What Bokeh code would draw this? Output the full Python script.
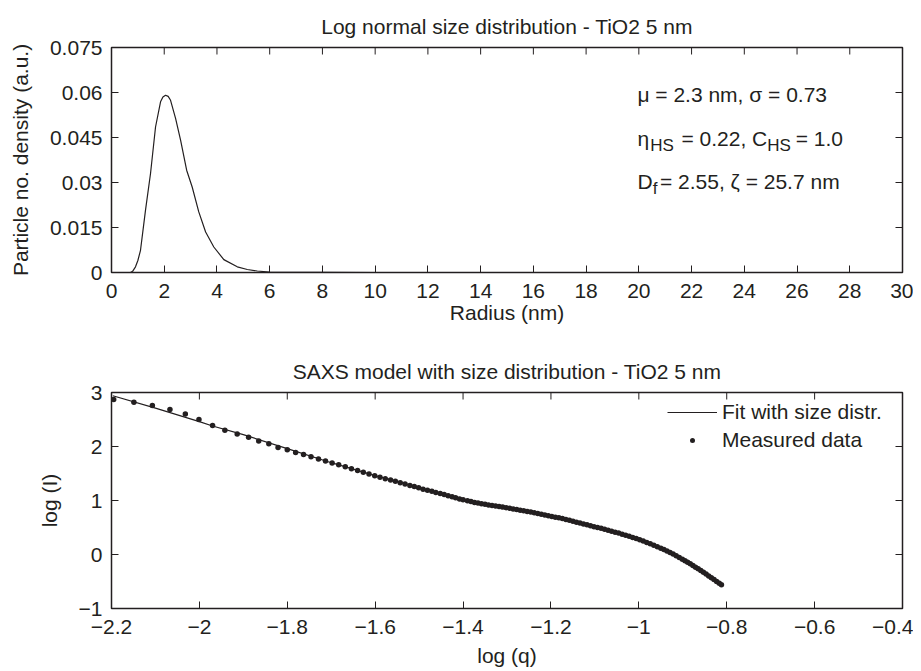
from bokeh.plotting import figure
from bokeh.models import Range1d, FixedTicker, Label, Legend, LegendItem
from bokeh.layouts import column
from bokeh.embed import file_html
from bokeh.resources import INLINE

INK = "#231f20"
FONT = "Liberation Sans"

# ---------------- data: top panel (size distribution) ----------------
radius_nm = [0.1, 0.5, 0.72, 0.80, 0.91, 1.00, 1.10, 1.29, 1.48, 1.67, 1.86, 1.95, 2.05,
             2.15, 2.24, 2.43, 2.62, 2.85, 3.06, 3.31, 3.57, 3.88, 4.26, 4.77, 5.15,
             5.53, 6.0, 10.0, 15.0, 20.0, 25.0]
density = [0.0, 0.0, 0.0, 0.0004, 0.0019, 0.0040, 0.0074, 0.0208, 0.0330, 0.0485, 0.0569,
           0.0585, 0.0591, 0.0587, 0.0574, 0.0514, 0.0441, 0.0341, 0.0285, 0.0202, 0.0135,
           0.0085, 0.0043, 0.0019, 0.0010, 0.0005, 0.0001, 0.0, 0.0, 0.0, 0.0]

top_xticks = [0, 2, 4, 6, 8, 10, 12, 14, 16, 18, 20, 22, 24, 26, 28, 30]
top_xlabels = ["0", "2", "4", "6", "8", "10", "12", "14", "16", "18", "20", "22", "24", "26", "28", "30"]
top_yticks = [0, 0.015, 0.03, 0.045, 0.06, 0.075]
top_ylabels = ["0", "0.015", "0.03", "0.045", "0.06", "0.075"]
top_xrange = (0, 30)
top_yrange = (0, 0.075)

# ---------------- data: bottom panel (SAXS) ----------------
log_q_meas = [
    -2.195, -2.149, -2.107, -2.067, -2.032, -2.001, -1.970, -1.942, -1.914, -1.888,
    -1.865, -1.842, -1.821, -1.800, -1.781, -1.763, -1.746, -1.729, -1.713, -1.698,
    -1.683, -1.668, -1.654, -1.640, -1.627, -1.614, -1.601, -1.589, -1.577, -1.565,
    -1.554, -1.543, -1.532, -1.521, -1.511, -1.501, -1.491, -1.481, -1.471, -1.462,
    -1.452, -1.443, -1.434, -1.425, -1.417, -1.408, -1.400,
    -1.390, -1.382, -1.374, -1.366, -1.358, -1.350, -1.342, -1.334, -1.326, -1.318,
    -1.310, -1.302, -1.294, -1.286, -1.278, -1.270, -1.262, -1.254, -1.246, -1.238,
    -1.230, -1.222, -1.214, -1.206, -1.198, -1.190, -1.182, -1.174, -1.166, -1.158,
    -1.150, -1.142, -1.134, -1.126, -1.118, -1.110, -1.102, -1.094, -1.086, -1.078,
    -1.070, -1.062, -1.054, -1.046, -1.038, -1.030, -1.022, -1.014, -1.006, -0.998,
    -0.990, -0.982, -0.974, -0.966, -0.958, -0.950, -0.943, -0.936, -0.929, -0.922,
    -0.915, -0.908, -0.901, -0.895, -0.889, -0.883, -0.877, -0.871, -0.865, -0.859,
    -0.853, -0.847, -0.841, -0.835, -0.829, -0.823, -0.817, -0.812]
log_I_meas = [
    2.870, 2.820, 2.760, 2.685, 2.600, 2.500, 2.390, 2.300, 2.230, 2.170,
    2.100, 2.050, 1.980, 1.940, 1.890, 1.850, 1.810, 1.770, 1.730, 1.695,
    1.660, 1.625, 1.590, 1.555, 1.525, 1.490, 1.460, 1.430, 1.405, 1.380,
    1.355, 1.330, 1.305, 1.280, 1.260, 1.235, 1.210, 1.190, 1.170, 1.150,
    1.130, 1.110, 1.090, 1.070, 1.050, 1.030, 1.015,
    0.995, 0.980, 0.965, 0.952, 0.940, 0.930, 0.918, 0.908, 0.898, 0.888,
    0.878, 0.866, 0.855, 0.844, 0.832, 0.820, 0.808, 0.797, 0.785, 0.772,
    0.760, 0.745, 0.732, 0.718, 0.705, 0.692, 0.680, 0.665, 0.648, 0.632,
    0.615, 0.598, 0.582, 0.565, 0.549, 0.532, 0.516, 0.500, 0.484, 0.467,
    0.450, 0.432, 0.414, 0.396, 0.377, 0.357, 0.337, 0.316, 0.295, 0.272,
    0.248, 0.224, 0.199, 0.173, 0.145, 0.117, 0.091, 0.064, 0.036, 0.007,
    -0.023, -0.054, -0.086, -0.114, -0.143, -0.173, -0.203, -0.234, -0.265, -0.297,
    -0.330, -0.363, -0.397, -0.431, -0.465, -0.499, -0.533, -0.562]

log_q_fit = [-2.197, -2.10, -2.00, -1.97, -1.90, -1.80, -1.70, -1.60, -1.50, -1.40,
             -1.30, -1.20, -1.15, -1.10, -1.05, -1.025, -1.00, -0.975, -0.95, -0.925,
             -0.90, -0.875, -0.85, -0.83, -0.812]
log_I_fit = [2.94, 2.71, 2.46, 2.38, 2.22, 1.96, 1.70, 1.46, 1.24, 1.01,
             0.87, 0.715, 0.62, 0.525, 0.41, 0.36, 0.305, 0.22, 0.13, 0.03,
             -0.08, -0.21, -0.34, -0.45, -0.56]

bot_xticks = [-2.2, -2.0, -1.8, -1.6, -1.4, -1.2, -1.0, -0.8, -0.6, -0.4]
bot_xlabels = ["\u22122.2", "\u22122", "\u22121.8", "\u22121.6", "\u22121.4", "\u22121.2",
               "\u22121", "\u22120.8", "\u22120.6", "\u22120.4"]
bot_yticks = [-1, 0, 1, 2, 3]
bot_ylabels = ["\u22121", "0", "1", "2", "3"]
bot_xrange = (-2.2, -0.4)
bot_yrange = (-1, 3)

FRAME_W = 791
TICK_PX = 7


def style_axes(p, xt, xl, yt, yl, xlabel, ylabel, xr, yr, fh, x_std, x_lab_std):
    p.grid.visible = False
    p.outline_line_color = INK
    p.outline_line_width = 1.5
    p.background_fill_color = "white"
    p.border_fill_color = "white"
    p.title.text_font = FONT
    p.title.text_font_size = "21px"
    p.title.text_font_style = "normal"
    p.title.text_color = INK
    p.title.align = "center"
    p.title.standoff = 20

    xa = p.xaxis[0]
    ya = p.yaxis[0]
    xa.ticker = FixedTicker(ticks=xt)
    xa.major_label_overrides = {t: s for t, s in zip(xt, xl)}
    ya.ticker = FixedTicker(ticks=yt)
    ya.major_label_overrides = {t: s for t, s in zip(yt, yl)}
    xa.axis_label = xlabel
    ya.axis_label = ylabel
    for ax in (xa, ya):
        ax.axis_line_color = None
        ax.major_tick_in = TICK_PX
        ax.major_tick_out = 0
        ax.major_tick_line_color = INK
        ax.major_tick_line_width = 1
        ax.minor_tick_line_color = None
        ax.major_label_text_font = FONT
        ax.major_label_text_font_size = "21px"
        ax.major_label_text_color = INK
        ax.axis_label_text_font = FONT
        ax.axis_label_text_font_size = "21px"
        ax.axis_label_text_font_style = "normal"
        ax.axis_label_text_color = INK
    xa.major_label_standoff = x_std
    xa.axis_label_standoff = x_lab_std
    ya.major_label_standoff = 9
    ya.axis_label_standoff = 15

    # inward ticks on the top and right edges of the box (mirrors of the axis ticks)
    dy = (yr[1] - yr[0]) / fh * TICK_PX
    dx = (xr[1] - xr[0]) / FRAME_W * TICK_PX
    p.segment(x0=xt, y0=[yr[1]] * len(xt), x1=xt, y1=[yr[1] - dy] * len(xt),
              line_color=INK, line_width=1)
    p.segment(x0=[xr[1]] * len(yt), y0=yt, x1=[xr[1] - dx] * len(yt), y1=yt,
              line_color=INK, line_width=1)


def make_legend(item, loc, glyph_h):
    lg = Legend(items=[item], location=loc)
    lg.border_line_color = None
    lg.background_fill_alpha = 0
    lg.glyph_width = 50
    lg.glyph_height = glyph_h
    lg.label_height = glyph_h
    lg.label_standoff = 5
    lg.padding = 4
    lg.spacing = 0
    lg.margin = 0
    lg.label_text_font = FONT
    lg.label_text_font_size = "21px"
    lg.label_text_color = INK
    return lg


# ---------------- top figure ----------------
TOP_FH = 225
top = figure(frame_width=FRAME_W, frame_height=TOP_FH,
             min_border_left=111, min_border_right=11, min_border_top=47, min_border_bottom=66,
             x_range=Range1d(*top_xrange), y_range=Range1d(*top_yrange),
             title="Log normal size distribution - TiO2 5 nm",
             output_backend="svg", toolbar_location=None)
style_axes(top, top_xticks, top_xlabels, top_yticks, top_ylabels,
           "Radius (nm)", "Particle no. density (a.u.)", top_xrange, top_yrange, TOP_FH, 11, 0)
top.line(radius_nm, density, line_color=INK, line_width=1.2)

main_sz = "21px"
sub_sz = "17px"


def add_text(p, x, y, text, size):
    p.add_layout(Label(x=x, y=y, text=text, text_font=FONT, text_font_size=size,
                       text_color=INK, text_align="left", text_baseline="middle"))


add_text(top, 19.945, 0.0595, "\u03bc = 2.3 nm, \u03c3 = 0.73", main_sz)
add_text(top, 19.945, 0.0448, "\u03b7", main_sz)
add_text(top, 20.431, 0.0424, "HS", sub_sz)
add_text(top, 21.615, 0.0448, "= 0.22, C", main_sz)
add_text(top, 24.870, 0.0424, "HS", sub_sz)
add_text(top, 25.951, 0.0448, "= 1.0", main_sz)
add_text(top, 19.945, 0.0305, "D", main_sz)
add_text(top, 20.530, 0.0281, "f", sub_sz)
add_text(top, 20.800, 0.0305, "= 2.55, \u03b6 = 25.7 nm", main_sz)

# ---------------- bottom figure ----------------
BOT_FH = 216
bot = figure(frame_width=FRAME_W, frame_height=BOT_FH,
             min_border_left=111, min_border_right=11, min_border_top=54, min_border_bottom=63,
             x_range=Range1d(*bot_xrange), y_range=Range1d(*bot_yrange),
             title="SAXS model with size distribution - TiO2 5 nm",
             output_backend="svg", toolbar_location=None)
style_axes(bot, bot_xticks, bot_xlabels, bot_yticks, bot_ylabels, "log (q)", "log (I)",
           bot_xrange, bot_yrange, BOT_FH, 11, 7)

fit_r = bot.line(log_q_fit, log_I_fit, line_color=INK, line_width=1.2)
dots_r = bot.scatter(log_q_meas, log_I_meas, size=22, marker="dot",
                     fill_color=INK, line_color=INK)

bot.add_layout(make_legend(LegendItem(label="Fit with size distr.", renderers=[fit_r]),
                           (556, 182), 28))
bot.add_layout(make_legend(LegendItem(label="Measured data", renderers=[dots_r]),
                           (556, 143), 50))

layout = column(top, bot, spacing=0)
open("out.html", "w").write(file_html(layout, INLINE))
